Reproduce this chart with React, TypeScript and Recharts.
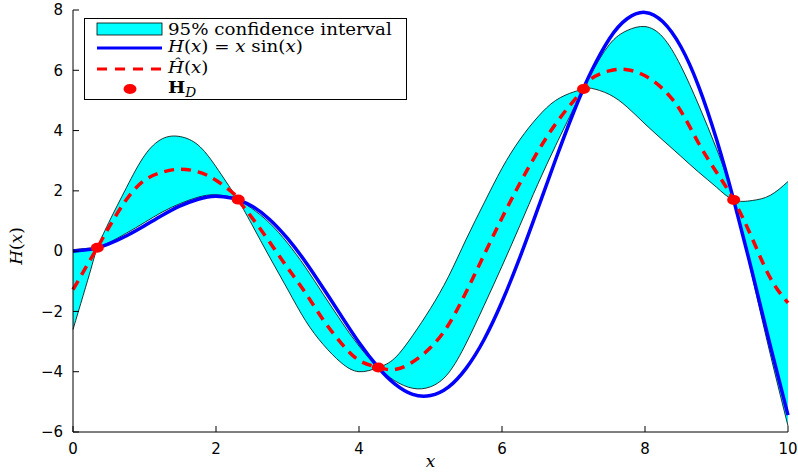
import React from 'react';
import { ComposedChart, Area, Line, Scatter, XAxis, YAxis, Legend } from 'recharts';

// sample positions along x (grid plus the observed points)
const xs = [0, 0.25, 0.34, 0.5, 0.75, 1, 1.25, 1.5, 1.75, 2, 2.25, 2.31, 2.5, 2.75, 3, 3.25, 3.5, 3.75, 4, 4.27,
  4.5, 4.75, 5, 5.25, 5.5, 5.75, 6, 6.25, 6.5, 6.75, 7, 7.14, 7.25, 7.5, 7.75, 8, 8.25, 8.5, 8.75, 9, 9.24, 9.5, 9.75, 10];

// H(x) = x sin(x)
const trueH = [0, 0.06, 0.11, 0.24, 0.51, 0.84, 1.19, 1.5, 1.72, 1.82, 1.75, 1.71, 1.5, 1.05, 0.42, -0.35, -1.23, -2.14, -3.03, -3.86,
  -4.4, -4.75, -4.79, -4.51, -3.88, -2.93, -1.68, -0.21, 1.4, 3.04, 4.6, 5.4, 5.97, 7.04, 7.71, 7.92, 7.61, 6.79, 5.47, 3.71, 1.7, -0.71, -3.12, -5.44];

// predicted mean (red dashed)
const meanH = [-1.28, -0.25, 0.11, 0.78, 1.72, 2.35, 2.62, 2.72, 2.63, 2.35, 1.9, 1.71, 1.12, 0.3, -0.55, -1.38, -2.28, -3.05, -3.62, -3.86,
  -3.93, -3.68, -3.2, -2.45, -1.35, -0.12, 1.1, 2.25, 3.3, 4.22, 4.98, 5.38, 5.72, 5.98, 6.02, 5.82, 5.38, 4.65, 3.58, 2.62, 1.7, 0.42, -0.88, -1.72];

// 95% band: the outer edge swinging away from H(x), and the inner edge that hugs it
// (the two swap between upper and lower at every observed point)
const edgeOuter = [-2.6, -0.6, 0.11, 0.95, 2.12, 3.17, 3.73, 3.8, 3.52, 2.8, 1.92, 1.71, 0.89, -0.2, -1.26, -2.3, -3.1, -3.7, -4.0, -3.86,
  -3.55, -2.8, -1.9, -0.85, 0.4, 1.6, 2.75, 3.7, 4.45, 5.0, 5.28, 5.38, 5.4, 5.2, 4.78, 4.22, 3.68, 3.15, 2.62, 2.12, 1.7, 1.68, 1.85, 2.31];
const edgeInner = [0.05, 0.1, 0.11, 0.28, 0.6, 0.95, 1.3, 1.58, 1.79, 1.87, 1.78, 1.71, 1.42, 0.93, 0.27, -0.53, -1.43, -2.32, -3.15, -3.86,
  -4.3, -4.55, -4.5, -4.05, -3.05, -1.8, -0.5, 0.85, 2.22, 3.5, 4.72, 5.38, 5.9, 6.85, 7.32, 7.45, 7.1, 6.15, 4.85, 3.4, 1.7, -0.85, -3.4, -5.8];

// observed data H_D
const sampleX = [0.34, 2.31, 4.27, 7.14, 9.24];
const sampleY = [0.11, 1.71, -3.86, 5.38, 1.7];

const xTicks = [0, 2, 4, 6, 8, 10];
const yTicks = [-6, -4, -2, 0, 2, 4, 6, 8];

const rows = xs.map((x, i) => ({ x, h: trueH[i], mean: meanH[i], band: [edgeOuter[i], edgeInner[i]] }));
const samples = sampleX.map((x, i) => ({ x, y: sampleY[i] }));

const fmt = (v: number) => (v < 0 ? `\u2212${-v}` : `${v}`);
const tickFont = { fill: '#000', fontSize: 15, fontFamily: 'DejaVu Sans' };
const serif = 'DejaVu Serif';

const RedDot = (p: any) => <ellipse cx={p.cx} cy={p.cy} rx={6.5} ry={5} fill="#ff0000" />;

function LegendBox() {
  return (
    <svg width={323} height={82} style={{ display: 'block' }} fontFamily={serif} fontSize={16}>
      <rect x={0.5} y={0.5} width={322} height={81} fill="#fff" stroke="#000" />
      <rect x={13} y={5} width={65} height={12} fill="#00ffff" stroke="#000" strokeWidth={0.8} />
      <line x1={13} x2={78} y1={30} y2={30} stroke="#0000ff" strokeWidth={3} />
      <line x1={13} x2={78} y1={51} y2={51} stroke="#ff0000" strokeWidth={3} strokeDasharray="10 8" />
      <ellipse cx={46} cy={71} rx={6.5} ry={5} fill="#ff0000" />
      {/* the reference text is a little stretched sideways */}
      <g transform="translate(84 0) scale(1.14 1)">
        <text x={0} y={17}>95% confidence interval</text>
        <text x={0} y={34}>
          <tspan fontStyle="italic">H</tspan>{'('}<tspan fontStyle="italic">x</tspan>{') = '}
          <tspan fontStyle="italic">x</tspan>{' sin('}<tspan fontStyle="italic">x</tspan>{')'}
        </text>
        <text x={0} y={55}>
          <tspan fontStyle="italic">{'\u0124'}</tspan>{'('}<tspan fontStyle="italic">x</tspan>{')'}
        </text>
        <text x={0} y={75}>
          <tspan fontWeight="bold">H</tspan>
          <tspan fontStyle="italic" fontSize={12} dy={4}>D</tspan>
        </text>
      </g>
    </svg>
  );
}

export default function App() {
  return (
    <div style={{ position: 'absolute', left: 0, top: 0, width: 798, height: 473, background: '#fff' }}>
      <ComposedChart width={798} height={473} data={rows} margin={{ top: 10, right: 10, bottom: 0, left: 0 }}>
        <XAxis
          dataKey="x" type="number" domain={[0, 10]} ticks={xTicks} height={41}
          tick={tickFont} tickFormatter={fmt} tickSize={-6} tickMargin={17}
          axisLine={{ stroke: '#000' }} tickLine={{ stroke: '#000' }}
          label={{ value: 'x', position: 'insideBottom', offset: 6, fill: '#000', fontSize: 17, fontFamily: serif, fontStyle: 'italic' }}
        />
        <XAxis
          xAxisId="top" orientation="top" type="number" domain={[0, 10]} ticks={xTicks} height={0}
          tick={false} tickSize={-6} axisLine={{ stroke: '#000' }} tickLine={{ stroke: '#000' }}
        />
        <YAxis
          type="number" domain={[-6, 8]} ticks={yTicks} width={73} interval={0}
          tick={tickFont} tickFormatter={fmt} tickSize={-6} tickMargin={16}
          axisLine={{ stroke: '#000' }} tickLine={{ stroke: '#000' }}
          label={{
            content: () => (
              <text transform="translate(22,246) rotate(-90)" textAnchor="middle" fontFamily={serif} fontSize={17} fill="#000">
                <tspan fontStyle="italic">H</tspan>(<tspan fontStyle="italic">x</tspan>)
              </text>
            ),
          }}
        />
        <YAxis
          yAxisId="right" orientation="right" type="number" domain={[-6, 8]} ticks={yTicks} width={0}
          tick={false} tickSize={-6} axisLine={{ stroke: '#000' }} tickLine={{ stroke: '#000' }}
        />
        <Area dataKey="band" type="natural" fill="#00ffff" fillOpacity={1} stroke="#000" strokeWidth={0.8} isAnimationActive={false} />
        <Line dataKey="h" type="natural" stroke="#0000ff" strokeWidth={3.5} dot={false} activeDot={false} isAnimationActive={false} />
        <Line dataKey="mean" type="natural" stroke="#ff0000" strokeWidth={3.5} strokeDasharray="10 7" dot={false} activeDot={false} isAnimationActive={false} />
        <Scatter data={samples} dataKey="y" fill="#ff0000" shape={RedDot} isAnimationActive={false} />
        <Legend
          content={LegendBox} layout="vertical" align="center" verticalAlign="middle"
          wrapperStyle={{ left: 84, top: 18, width: 323, height: 82 }}
        />
      </ComposedChart>
    </div>
  );
}
